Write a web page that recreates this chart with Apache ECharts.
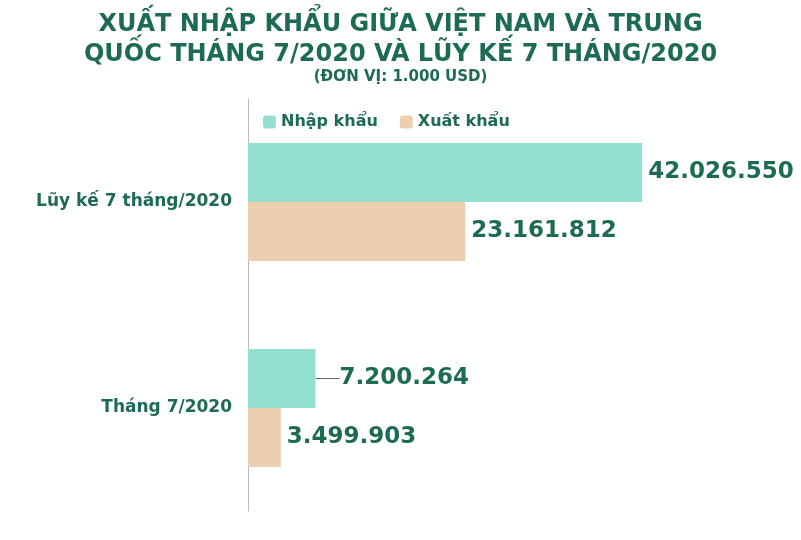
<!DOCTYPE html>
<html><head><meta charset="utf-8">
<script src="https://cdn.jsdelivr.net/npm/echarts@6/dist/echarts.min.js"></script>
<style>body{margin:0}#c{width:801px;height:540px}</style></head>
<body><div id="c"></div>
<script>
const categories = ['Tháng 7/2020', 'Lũy kế 7 tháng/2020'];
const nhapKhau = [7200264, 42026550];
const xuatKhau = [3499903, 23161812];
const fmt = v => String(v).replace(/\B(?=(\d{3})+(?!\d))/g, '.');
const green = '#1d6a55';
const F = 'DejaVu Sans';
const chart = echarts.init(document.getElementById('c'));
const lbl = {show:true, position:'right', distance:6, color:green, fontSize:23, fontWeight:'bold', fontFamily:F, formatter:p=>fmt(p.value)};
chart.setOption({
  animation:false,
  title:{text:'XUẤT NHẬP KHẨU GIỮA VIỆT NAM VÀ TRUNG\nQUỐC THÁNG 7/2020 VÀ LŨY KẾ 7 THÁNG/2020', left:'center', top:5,
    textStyle:{color:green, fontSize:24, fontWeight:'bold', fontFamily:F, lineHeight:30},
    subtext:'(ĐƠN VỊ: 1.000 USD)', itemGap:0, subtextStyle:{color:green, fontSize:15, fontWeight:'bold', fontFamily:F}},
  legend:{left:258, top:109, itemWidth:13, itemHeight:13, itemGap:22, textStyle:{color:green, fontSize:16, fontWeight:'bold', fontFamily:F}},
  grid:{left:248, right:84, top:99, bottom:29},
  xAxis:{type:'value', min:0, max:50000000, show:false},
  yAxis:{type:'category', data:categories, axisTick:{show:false},
    axisLine:{lineStyle:{color:'#bbb'}},
    axisLabel:{color:green, fontSize:17, fontWeight:'bold', fontFamily:F, margin:16}},
  series:[
    {name:'Nhập khẩu', type:'bar', barWidth:59, barGap:'0%', itemStyle:{color:'#94e0d0'}, label:lbl,
      labelLayout:p => p.dataIndex === 0 ? {dx:18} : {},
      data:nhapKhau.map((v,i) => i === 0 ? {value:v, labelLine:{show:true, lineStyle:{color:'#666'}}} : {value:v, labelLine:{show:false}})},
    {name:'Xuất khẩu', type:'bar', barWidth:59, itemStyle:{color:'#eccfb0'}, label:lbl, data:xuatKhau}
  ]
});
</script></body></html>
